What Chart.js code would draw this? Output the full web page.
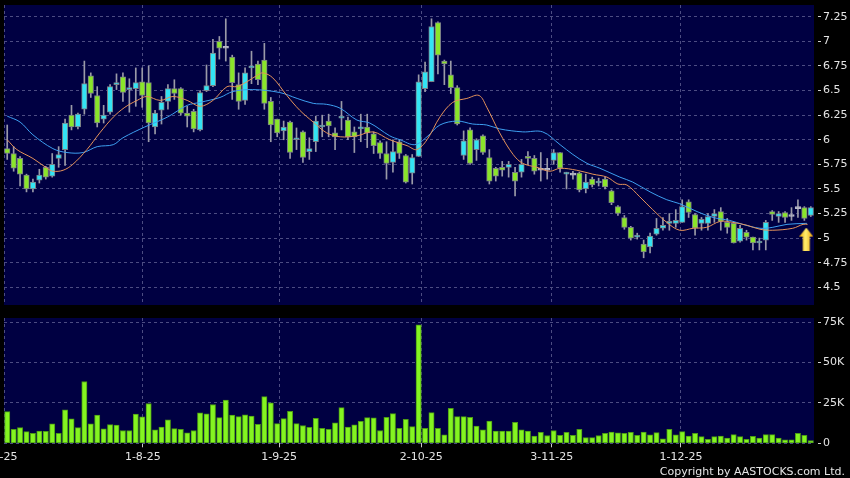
<!DOCTYPE html>
<html>
<head>
<meta charset="utf-8">
<script src="https://cdn.jsdelivr.net/npm/chart.js@4.4.1/dist/chart.umd.min.js"></script>
<style>
  html, body { margin: 0; padding: 0; background: #000; }
  #wrap { position: relative; width: 850px; height: 478px; overflow: hidden; background: #000; }
  #priceBox { position: absolute; left: 0; top: 0; width: 850px; height: 312px; }
  #volBox { position: absolute; left: 0; top: 312px; width: 850px; height: 166px; }
  #copy { position: absolute; right: 5px; top: 465px; line-height: 13px;
          font: 11px "DejaVu Sans", sans-serif; color: #e6e6e6; white-space: nowrap; }
</style>
</head>
<body>
<div id="wrap">
  <div id="priceBox"><canvas id="priceChart"></canvas></div>
  <div id="volBox"><canvas id="volChart"></canvas></div>
  <div id="copy">Copyright by AASTOCKS.com Ltd.</div>
</div>
<script>
// daily candles, index 0 = first bar (early July 2025)
const openP = [5.91,5.86,5.81,5.64,5.50,5.59,5.72,5.63,5.81,5.90,
  6.25,6.13,6.31,6.65,6.45,6.21,6.28,6.56,6.64,6.51,
  6.52,6.59,6.58,6.13,6.30,6.39,6.52,6.52,6.27,6.29,
  6.10,6.50,6.55,7.00,6.93,6.84,6.56,6.40,6.73,6.77,
  6.81,6.39,6.21,6.09,6.18,6.00,6.08,5.88,5.98,6.13,
  6.19,6.07,6.22,6.20,6.08,6.11,6.13,6.06,5.97,5.86,
  5.77,5.98,5.84,5.66,5.83,6.52,6.59,7.19,6.80,6.66,
  6.53,5.84,6.10,5.90,6.04,5.82,5.71,5.72,5.72,5.67,
  5.67,5.83,5.81,5.69,5.69,5.79,5.87,5.65,5.64,5.66,
  5.50,5.60,5.56,5.60,5.48,5.32,5.21,5.11,5.01,4.94,
  4.91,5.04,5.10,5.15,5.15,5.16,5.37,5.24,5.15,5.15,
  5.22,5.27,5.16,5.15,4.97,5.06,5.01,4.95,4.98,5.27,
  5.22,5.26,5.22,5.30,5.31,5.23];
const highP = [6.15,5.93,5.83,5.65,5.60,5.70,5.73,5.86,5.93,6.21,
  6.35,6.27,6.80,6.68,6.54,6.35,6.56,6.67,6.68,6.62,
  6.73,6.73,6.75,6.30,6.44,6.56,6.61,6.53,6.34,6.31,
  6.50,6.76,7.02,7.05,7.23,6.86,6.68,6.73,6.90,6.80,
  6.98,6.43,6.21,6.19,6.19,6.12,6.09,6.02,6.24,6.25,
  6.26,6.12,6.39,6.23,6.13,6.26,6.26,6.08,5.99,5.98,
  6.00,6.00,5.85,5.85,6.66,6.79,7.23,7.20,6.81,6.80,
  6.55,6.09,6.12,6.01,6.05,5.90,5.72,5.78,5.78,5.72,
  5.80,5.88,5.84,5.87,5.81,5.90,5.87,5.67,5.68,5.67,
  5.65,5.62,5.61,5.62,5.49,5.33,5.23,5.12,5.05,4.98,
  5.05,5.20,5.21,5.25,5.29,5.39,5.39,5.25,5.21,5.25,
  5.29,5.31,5.20,5.16,5.13,5.08,5.01,5.00,5.18,5.28,
  5.27,5.27,5.31,5.39,5.32,5.32];
const lowP = [5.80,5.68,5.53,5.47,5.47,5.56,5.60,5.62,5.72,5.74,
  6.10,6.11,6.26,6.43,6.13,6.17,6.26,6.51,6.39,6.28,
  6.34,6.33,5.98,6.06,6.16,6.31,6.41,6.25,6.13,6.08,
  6.09,6.49,6.54,6.82,6.80,6.41,6.31,6.36,6.57,6.56,
  6.31,5.98,6.03,6.00,5.81,5.90,5.77,5.80,5.88,6.03,
  6.03,5.90,6.10,6.00,5.87,5.98,5.92,5.86,5.81,5.60,
  5.67,5.81,5.56,5.55,5.83,6.49,6.59,6.67,6.56,6.47,
  6.15,5.80,5.75,5.79,5.85,5.55,5.58,5.63,5.62,5.43,
  5.62,5.75,5.65,5.58,5.60,5.75,5.67,5.50,5.60,5.47,
  5.46,5.52,5.53,5.50,5.34,5.23,5.09,4.98,4.99,4.80,
  4.85,5.03,5.08,5.08,5.11,5.16,5.21,5.03,5.08,5.08,
  5.16,5.08,5.05,4.95,4.96,4.98,4.88,4.88,4.88,5.18,
  5.16,5.16,5.18,5.21,5.18,5.22];
const closeP = [5.86,5.71,5.65,5.50,5.57,5.64,5.62,5.75,5.85,6.17,
  6.13,6.26,6.57,6.47,6.17,6.25,6.54,6.58,6.48,6.53,
  6.58,6.45,6.17,6.27,6.38,6.52,6.47,6.27,6.24,6.11,
  6.48,6.55,6.88,6.93,6.93,6.58,6.39,6.68,6.75,6.61,
  6.37,6.15,6.07,6.13,5.87,6.02,5.82,5.91,6.19,6.14,
  6.14,6.03,6.23,6.03,6.03,6.12,6.07,5.94,5.86,5.76,
  5.88,5.86,5.57,5.82,6.59,6.69,7.15,6.86,6.77,6.53,
  6.16,5.99,5.76,6.00,5.87,5.58,5.63,5.69,5.75,5.58,
  5.75,5.81,5.68,5.69,5.69,5.87,5.71,5.66,5.64,5.49,
  5.57,5.54,5.57,5.52,5.36,5.25,5.11,5.00,5.02,4.86,
  5.02,5.10,5.13,5.17,5.18,5.32,5.26,5.10,5.19,5.22,
  5.25,5.17,5.11,4.95,5.10,5.01,4.95,4.96,5.16,5.24,
  5.25,5.21,5.22,5.30,5.20,5.31];

// volume in thousands of shares
const volK = [19.6,8.7,9.7,7.2,6.2,7.6,7.4,12.0,6.2,20.7,
  15.1,9.7,38.2,12.0,17.4,8.9,11.6,11.2,7.9,7.9,
  18.0,16.3,24.6,8.3,10.1,14.5,9.1,8.7,6.4,7.9,
  18.8,18.2,24.0,15.9,26.7,17.4,16.5,17.6,16.9,11.8,
  28.9,25.0,12.2,15.3,19.8,12.2,11.0,9.9,15.5,9.3,
  8.7,12.6,22.1,10.1,11.4,13.6,15.9,15.7,7.9,16.1,
  18.4,9.3,14.9,10.3,73.3,9.3,19.0,9.3,5.2,21.7,
  16.5,16.5,16.1,10.7,8.3,13.8,7.6,7.6,7.6,13.0,
  8.3,7.6,4.5,6.8,4.8,7.9,5.0,6.8,5.0,8.7,
  3.5,3.5,4.8,6.2,7.0,6.4,6.2,6.8,5.0,7.0,
  5.2,6.6,2.7,8.7,5.2,7.2,4.5,6.2,4.1,2.5,
  4.1,4.5,3.3,5.4,4.1,2.5,4.3,3.3,5.4,5.4,
  3.3,2.1,2.1,6.2,5.0,1.7];

// moving averages (bar index, price)
const ma10Idx = [0,1.5,4,6.2,7.1,8.7,10.2,12.4,14.4,16.5,18.3,20.2,21.7,23.8,25.8,28,30,32,34.2,35.7,
  37.3,39,39.8,41.3,43.5,45.5,47.6,49.7,51.8,54.4,56.9,59.5,62.2,63.7,65.3,67.3,69.3,71.5,73.4,74.6,
  76.6,78.7,80.2,82.4,84.4,86,88.6,91.1,93.3,95,96.4,98.4,100.4,102.6,104.6,106.7,108.8,110.9,112.9,115.1,
  117.1,119.1,122.2,123.8,124.5];
const ma10Val = [6.00,5.90,5.81,5.71,5.68,5.69,5.75,5.90,6.07,6.23,6.33,6.40,6.44,6.40,6.44,6.40,6.34,6.40,6.54,6.54,
  6.59,6.66,6.68,6.63,6.45,6.30,6.18,6.07,6.03,6.04,6.08,6.00,5.94,5.90,6.00,6.23,6.38,6.42,6.45,6.33,
  6.07,5.85,5.76,5.72,5.68,5.71,5.69,5.65,5.62,5.55,5.54,5.42,5.29,5.16,5.08,5.10,5.11,5.17,5.16,5.13,
  5.09,5.08,5.10,5.14,5.14];
const ma20Idx = [0,2,4,7.1,9.3,11.8,14,16.5,18,21.4,24.9,28,30,33.1,35.1,38.2,42.4,45.1,47.6,49.7,
  51.8,54.4,56.4,59.5,61.1,63.4,65.3,67.3,70,72.4,74.6,76.6,80.2,83.3,86,88,90.2,92.2,95.3,97.3,
  100,102.6,104.6,107.3,109.8,112.4,114.4,117.1,119.1,121.3,124.4];
const ma20Val = [6.24,6.18,6.05,5.91,5.87,5.87,5.93,5.95,6.02,6.13,6.23,6.35,6.38,6.43,6.49,6.51,6.48,6.42,6.37,6.36,
  6.32,6.20,6.17,6.04,6.00,5.95,6.03,6.15,6.19,6.16,6.15,6.11,6.08,6.08,5.95,5.85,5.76,5.71,5.62,5.57,
  5.47,5.39,5.35,5.27,5.21,5.18,5.14,5.10,5.11,5.14,5.15];

// last-price marker
const markerIdx = [124.3];
const markerVal = [4.99];

const priceTicks = [4.5,4.75,5,5.25,5.5,5.75,6,6.25,6.5,6.75,7,7.25];
const volTicks = [0,25,50,75];
// first entry carries the (clipped) first date label, second is the panel edge line
const dateTickPos = [-1.2,-0.5,21.1,42.3,64.4,84.7,104.8];
const dateTickText = ['2-7-25','','1-8-25','1-9-25','2-10-25','3-11-25','1-12-25'];

const UP = '#33e4f4';
const DOWN = '#8ae52a';
const FLAT = '#b8b8c8';
const GRID = '#4c4c82';
const NONE = 'rgba(0,0,0,0)';
const TXT = '#e4e4e4';

Chart.defaults.font.family = '"DejaVu Sans", sans-serif';
Chart.defaults.font.size = 11;
Chart.defaults.color = TXT;

const panelBg = {
  id: 'panelBg',
  beforeDraw(chart) {
    const { ctx, chartArea: a } = chart;
    ctx.save();
    ctx.fillStyle = '#000042';
    ctx.fillRect(a.left, a.top, a.right - a.left, a.bottom - a.top);
    ctx.restore();
  }
};

function noPad(s) {
  s.paddingLeft = 0; s.paddingRight = 0; s.paddingTop = 0; s.paddingBottom = 0;
}

function bodyColor(i) {
  if (closeP[i] > openP[i]) return UP;
  if (closeP[i] < openP[i]) return DOWN;
  return FLAT;
}

function makeArrow() {
  const c = document.createElement('canvas');
  c.width = 14; c.height = 23;
  const g = c.getContext('2d');
  const grad = g.createLinearGradient(0, 0, 14, 0);
  grad.addColorStop(0, '#f0a800');
  grad.addColorStop(0.45, '#ffee70');
  grad.addColorStop(1, '#e89a00');
  g.fillStyle = grad;
  g.beginPath();
  g.moveTo(7, 0); g.lineTo(14, 9); g.lineTo(10.5, 9); g.lineTo(10.5, 23);
  g.lineTo(3.5, 23); g.lineTo(3.5, 9); g.lineTo(0, 9); g.closePath();
  g.fill();
  return c;
}

const wicks = lowP.map((l, i) => ({ x: i, y: [l, highP[i]] }));
const bodies = openP.map((o, i) => ({ x: i, y: [o, closeP[i]] }));
const ma10 = ma10Idx.map((x, i) => ({ x, y: ma10Val[i] }));
const ma20 = ma20Idx.map((x, i) => ({ x, y: ma20Val[i] }));
const marker = markerIdx.map((x, i) => ({ x, y: markerVal[i] }));

const xBase = {
  type: 'linear',
  min: -0.5,
  max: 125.5,
  offset: false,
  afterBuildTicks: s => { s.ticks = dateTickPos.map(v => ({ value: v })); },
  border: { display: false, dash: [3, 3] }
};

new Chart(document.getElementById('priceChart'), {
  type: 'bar',
  data: {
    datasets: [
      { type: 'scatter', data: marker, pointStyle: makeArrow(), pointRadius: 10, order: 0 },
      { type: 'line', data: ma10, borderColor: '#e5925a', borderWidth: 1, pointRadius: 0, tension: 0.35, order: 1 },
      { type: 'line', data: ma20, borderColor: '#3d9ff0', borderWidth: 1, pointRadius: 0, tension: 0.35, order: 1 },
      {
        data: bodies, grouped: false, barThickness: 5.5, minBarLength: 2, order: 2,
        backgroundColor: c => bodyColor(c.dataIndex),
        borderColor: c => bodyColor(c.dataIndex) === FLAT ? FLAT : '#7a7f86',
        borderWidth: 1, borderSkipped: false
      },
      { data: wicks, grouped: false, barThickness: 1, backgroundColor: '#9a9aa8', order: 3 }
    ]
  },
  options: {
    responsive: true,
    maintainAspectRatio: false,
    animation: false,
    layout: { autoPadding: false, padding: { left: 4, right: 0, top: 5, bottom: 7 } },
    plugins: { legend: { display: false }, tooltip: { enabled: false } },
    scales: {
      x: Object.assign({}, xBase, {
        ticks: { display: false },
        grid: { color: c => (c.index === 0 ? NONE : GRID), drawTicks: false, offset: false },
        afterFit: s => { s.height = 0; noPad(s); }
      }),
      y: {
        position: 'right',
        min: 4.32,
        max: 7.37,
        afterBuildTicks: s => { s.ticks = priceTicks.map(v => ({ value: v })); },
        ticks: { color: TXT, padding: 2, callback: v => String(v) },
        grid: { color: GRID, tickLength: 7, tickColor: '#d0d0d0', tickBorderDash: [0, 4, 3, 60] },
        border: { display: false, dash: [3, 3] },
        afterFit: s => { s.width = 36; noPad(s); }
      }
    }
  },
  plugins: [panelBg]
});

new Chart(document.getElementById('volChart'), {
  type: 'bar',
  data: {
    datasets: [{
      data: volK.map((v, i) => ({ x: i, y: v })),
      barThickness: 5.3,
      backgroundColor: '#84f421',
      borderColor: '#4c9c14',
      borderWidth: 1,
      borderSkipped: false
    }]
  },
  options: {
    responsive: true,
    maintainAspectRatio: false,
    animation: false,
    layout: { autoPadding: false, padding: { left: 4, right: 0, top: 6, bottom: 4.7 } },
    plugins: { legend: { display: false }, tooltip: { enabled: false } },
    scales: {
      x: Object.assign({}, xBase, {
        ticks: { color: TXT, padding: 3, autoSkip: false, maxRotation: 0,
                 callback: (v, i) => dateTickText[i] },
        grid: {
          color: c => (c.index === 0 ? NONE : GRID),
          tickColor: c => (c.index === 1 ? NONE : '#c8c8c8'),
          tickLength: 4, tickBorderDash: [], offset: false
        },
        afterFit: s => { s.height = 30; noPad(s); }
      }),
      y: {
        position: 'right',
        min: 0,
        max: 77.5,
        afterBuildTicks: s => { s.ticks = volTicks.map(v => ({ value: v })); },
        ticks: { color: TXT, padding: 2, callback: v => (v === 0 ? '0' : v + 'K') },
        grid: { color: GRID, tickLength: 7, tickColor: '#d0d0d0', tickBorderDash: [0, 4, 3, 60] },
        border: { display: false, dash: [3, 3] },
        afterFit: s => { s.width = 36; noPad(s); }
      }
    }
  },
  plugins: [panelBg]
});
</script>
</body>
</html>
